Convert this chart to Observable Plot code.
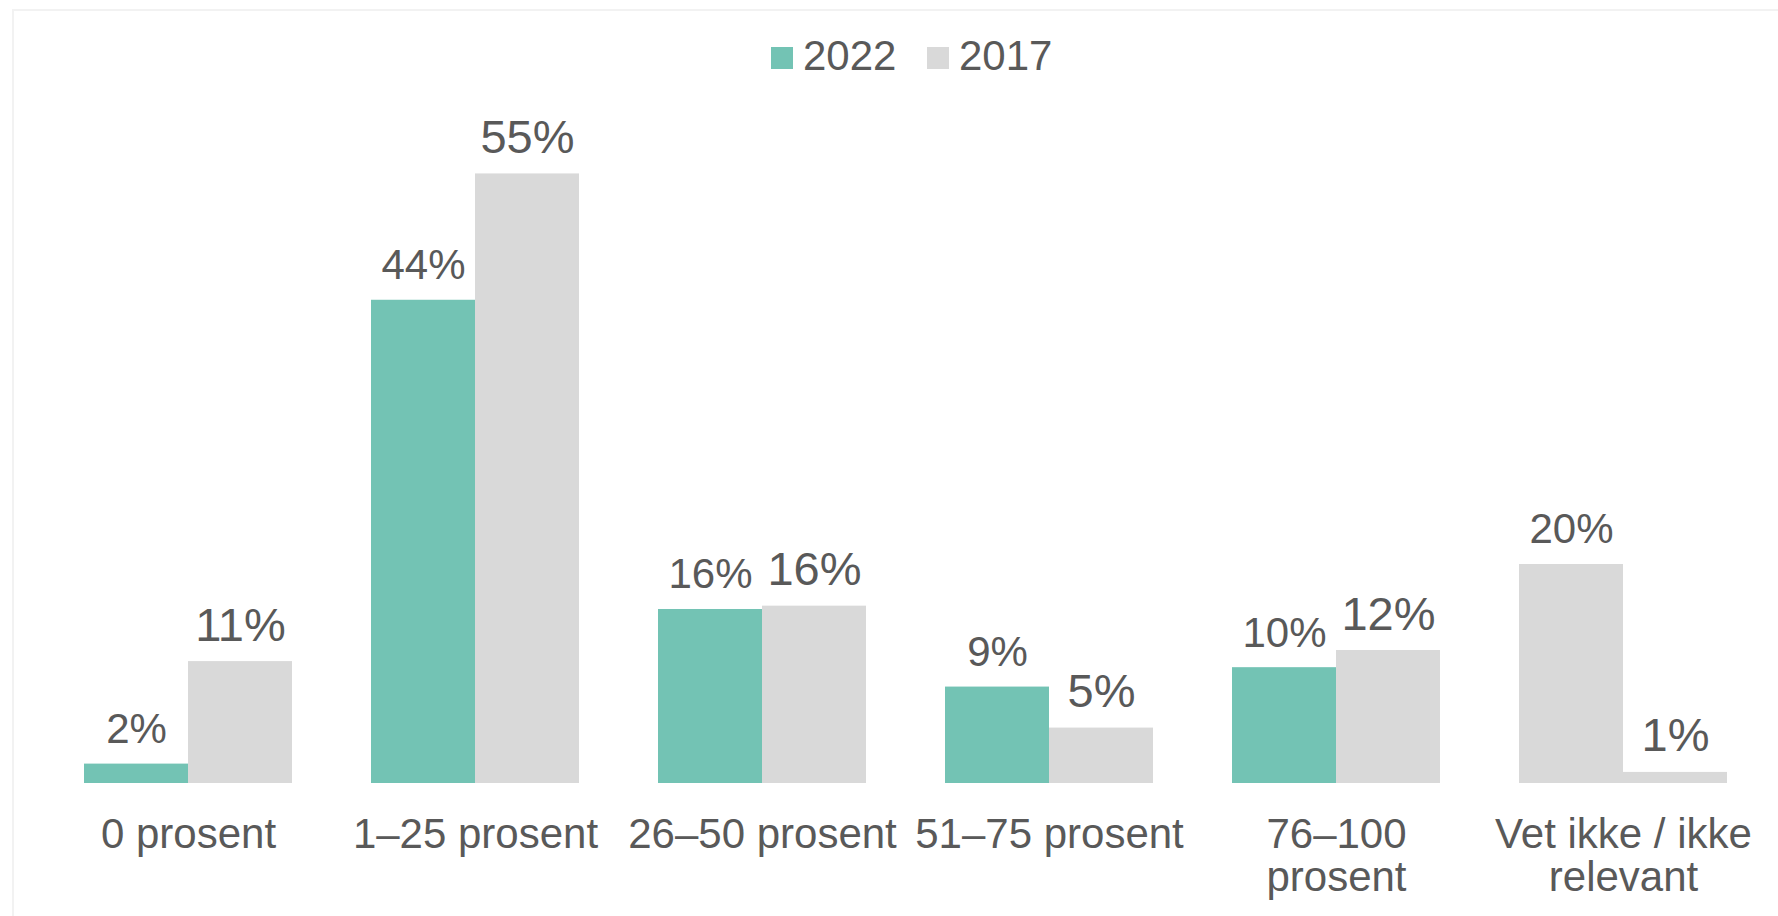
<!DOCTYPE html>
<html>
<head>
<meta charset="utf-8">
<script src="https://cdn.jsdelivr.net/npm/d3@7"></script>
<script src="https://cdn.jsdelivr.net/npm/@observablehq/plot@0.6"></script>
<style>
  html, body { margin: 0; padding: 0; background: #fff; overflow: hidden; }
  body { width: 1778px; height: 916px; position: relative; font-family: "Liberation Sans", Arial, sans-serif; color: #595959; }
  #frame { position: absolute; left: 12px; top: 9px; right: -4px; bottom: -4px; border-top: 2px solid #f2f2f2; border-left: 2px solid #f2f2f2; pointer-events: none; }
  #legend { position: relative; height: 100px; width: 1778px; }
  #legend .sw { position: absolute; width: 22px; height: 22px; top: 47px; }
  #legend .lb { position: absolute; top: 35px; font-size: 42px; line-height: 42px; white-space: nowrap; }
  #chart { position: relative; }
</style>
</head>
<body>
<div id="frame"></div>
<div id="legend"></div>
<div id="chart"></div>
<script>
// Data
const categories = ["0 prosent", "1–25 prosent", "26–50 prosent", "51–75 prosent", "76–100 prosent", "Vet ikke / ikke relevant"];
const tickLabels = ["0 prosent", "1–25 prosent", "26–50 prosent", "51–75 prosent", "76–100\nprosent", "Vet ikke / ikke\nrelevant"];
const seriesNames = ["2022", "2017"];
const values2022 = [1.75, 43.6, 15.7, 8.7, 10.45, 19.76];
const values2017 = [11, 55, 16, 5, 12, 1];

const TEAL = "#73C3B4";
const GREY = "#D9D9D9";
const seriesColors = {"2022": TEAL, "2017": GREY};
// In the reference, the 2022 bar of the last category is drawn in grey
const greyOverride = "Vet ikke / ikke relevant";

const data = [];
categories.forEach((c, i) => {
  data.push({category: c, series: "2022", value: values2022[i]});
  data.push({category: c, series: "2017", value: values2017[i]});
});

// Legend
const legend = document.getElementById("legend");
const legendPos = [{sw: 771, lb: 803}, {sw: 927, lb: 959}];
seriesNames.forEach((s, i) => {
  const sw = document.createElement("div");
  sw.className = "sw";
  sw.style.left = legendPos[i].sw + "px";
  sw.style.background = seriesColors[s];
  legend.appendChild(sw);
  const lb = document.createElement("div");
  lb.className = "lb";
  lb.style.left = legendPos[i].lb + "px";
  lb.textContent = s;
  legend.appendChild(lb);
});

const fillOf = d => (d.series === "2022" && d.category !== greyOverride) ? TEAL : GREY;
const labelSize = d => d.series === "2017" ? 47 : 42;

const chart = Plot.plot({
  width: 1778,
  height: 816,
  marginLeft: 83,
  marginRight: 49,
  marginTop: 18,
  marginBottom: 133,
  style: {fontFamily: "Liberation Sans, Arial, sans-serif", fontSize: "42px", color: "#595959", background: "transparent", overflow: "visible"},
  fx: {domain: categories, paddingInner: 0.275, paddingOuter: 0, label: null},
  x: {domain: seriesNames, padding: 0, axis: null},
  y: {domain: [0, 60], axis: null},
  color: {type: "identity"},
  marks: [
    Plot.barY(data, {fx: "category", x: "series", y: "value", fill: fillOf, inset: 0}),
    Plot.text(data, {fx: "category", x: "series", y: "value", text: d => Math.round(d.value) + "%", dy: -21, lineAnchor: "bottom", textAnchor: "middle", fontSize: labelSize, fill: "#595959"}),
    Plot.axisFx({anchor: "bottom", tickSize: 0, tickPadding: 34, fontSize: 42, label: null, lineHeight: 1.02,
      tickFormat: d => tickLabels[categories.indexOf(d)], fill: "#595959"})
  ]
});
document.getElementById("chart").appendChild(chart);
</script>
</body>
</html>
